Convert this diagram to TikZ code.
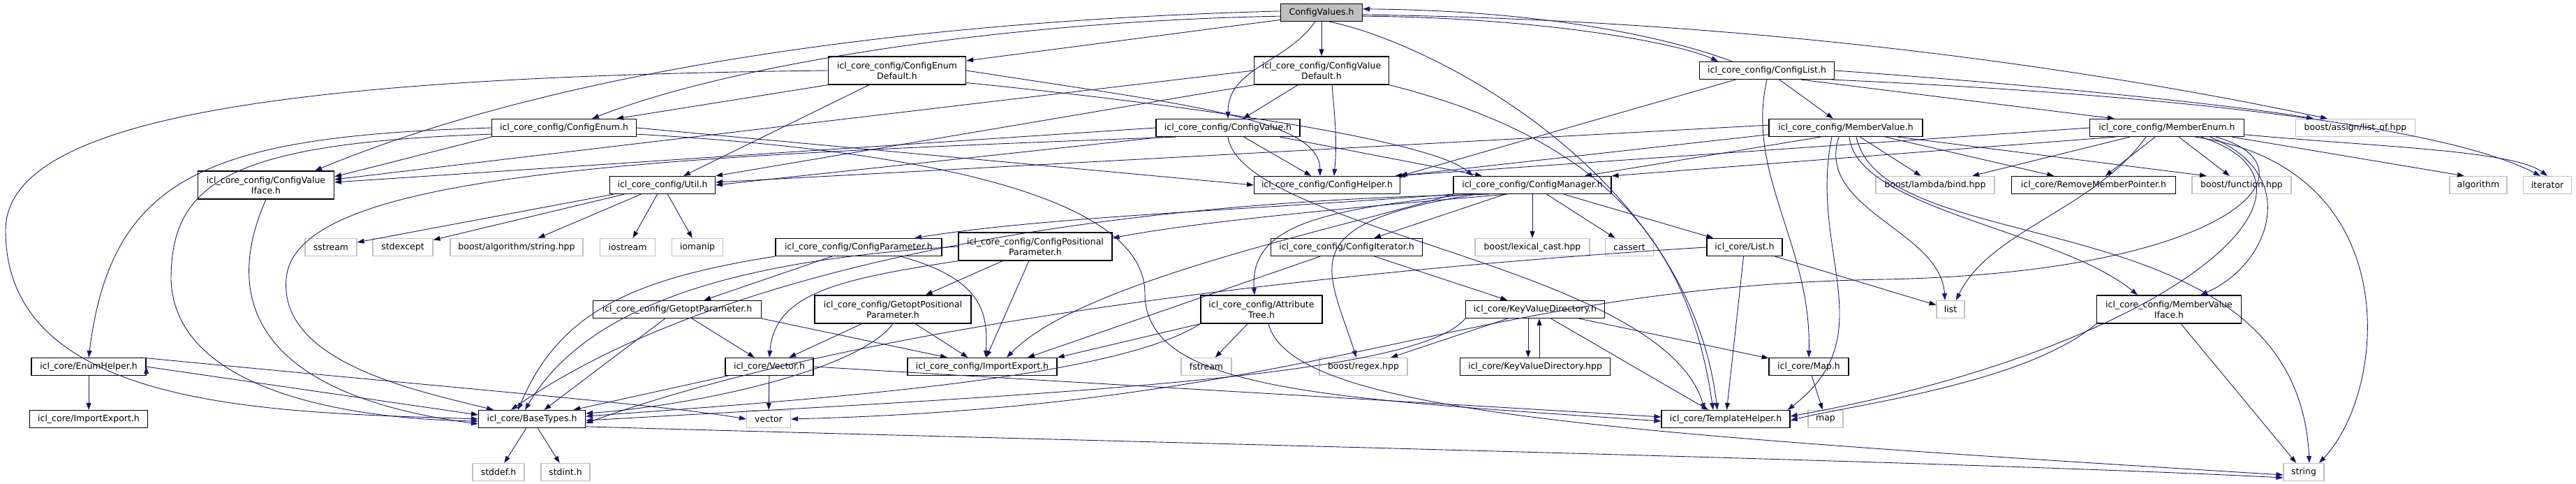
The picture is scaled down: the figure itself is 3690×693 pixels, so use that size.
\documentclass[tikz,border=0pt]{standalone}
\usepackage{fontspec}
\setmainfont{DejaVu Sans}
\usetikzlibrary{arrows.meta}
\definecolor{depblue}{HTML}{191970}
\definecolor{sysgray}{HTML}{BFBFBF}
\tikzset{>={Triangle[length=10pt,width=7pt]},
    dep/.style={->,draw=depblue,line width=0.9pt},
    hbox/.style={rectangle,draw,line width=1.2pt,inner xsep=2pt,inner ysep=0pt,
        minimum height=25pt,align=center,font=\fontsize{12.5}{15}\selectfont},
    hdr/.style={hbox,draw=black},
    sys/.style={hbox,draw=sysgray},
    cur/.style={hbox,draw=black,fill=sysgray},
    twoline/.style={minimum height=40pt}}

\begin{document}
\begin{tikzpicture}[x=1pt,y=-1pt]
\useasboundingbox (0,0) rectangle (3690,693);
% files, rank by rank
\node[cur, minimum width=117pt] (cv) at (1893,18) {ConfigValues.h};
\node[hdr, twoline, minimum width=197pt] (ced) at (1285,101) {icl\_core\_config/ConfigEnum\\Default.h};
\node[hdr, twoline, minimum width=193pt] (cvd) at (1893,101) {icl\_core\_config/ConfigValue\\Default.h};
\node[hdr, minimum width=193pt] (clist) at (2531,101) {icl\_core\_config/ConfigList.h};
\node[hdr, minimum width=207pt] (cenum) at (808,183) {icl\_core\_config/ConfigEnum.h};
\node[hdr, minimum width=206pt] (cval) at (1759,183) {icl\_core\_config/ConfigValue.h};
\node[hdr, minimum width=220pt] (mval) at (2644,183) {icl\_core\_config/MemberValue.h};
\node[hdr, minimum width=221pt] (menum) at (3104,183) {icl\_core\_config/MemberEnum.h};
\node[sys, minimum width=171pt] (listof) at (3374,183) {boost/assign/list\_of.hpp};
\node[hdr, twoline, minimum width=195pt] (cvi) at (381,265) {icl\_core\_config/ConfigValue\\Iface.h};
\node[hdr, minimum width=151pt] (util) at (949,265) {icl\_core\_config/Util.h};
\node[hdr, minimum width=209pt] (chelp) at (1901,265) {icl\_core\_config/ConfigHelper.h};
\node[hdr, minimum width=226pt] (cmgr) at (2195,265) {icl\_core\_config/ConfigManager.h};
\node[sys, minimum width=170pt] (bind) at (2772,265) {boost/lambda/bind.hpp};
\node[hdr, minimum width=235pt] (rmp) at (2999,265) {icl\_core/RemoveMemberPointer.h};
\node[sys, minimum width=142pt] (func) at (3211,265) {boost/function.hpp};
\node[sys, minimum width=82pt] (algo) at (3550,265) {algorithm};
\node[sys, minimum width=69pt] (iter) at (3649,265) {iterator};
\node[sys, minimum width=74pt] (sstream) at (474,354) {sstream};
\node[sys, minimum width=86pt] (stdexcept) at (577,354) {stdexcept};
\node[sys, minimum width=190pt] (balgo) at (740,354) {boost/algorithm/string.hpp};
\node[sys, minimum width=79pt] (iostream) at (899,354) {iostream};
\node[sys, minimum width=73pt] (iomanip) at (999,354) {iomanip};
\node[hdr, minimum width=238pt] (cparam) at (1230,354) {icl\_core\_config/ConfigParameter.h};
\node[hdr, twoline, minimum width=220pt] (cpparam) at (1483,353) {icl\_core\_config/ConfigPositional\\Parameter.h};
\node[hdr, minimum width=217pt] (citer) at (1929,354) {icl\_core\_config/ConfigIterator.h};
\node[sys, minimum width=164pt] (lexcast) at (2195,354) {boost/lexical\_cast.hpp};
\node[sys, minimum width=69pt] (cassert) at (2334,354) {cassert};
\node[hdr, minimum width=108pt] (listh) at (2499,354) {icl\_core/List.h};
\node[hdr, minimum width=241pt] (getopt) at (970,443) {icl\_core\_config/GetoptParameter.h};
\node[hdr, twoline, minimum width=224pt] (getpos) at (1279,443) {icl\_core\_config/GetoptPositional\\Parameter.h};
\node[hdr, twoline, minimum width=174pt] (attr) at (1807,443) {icl\_core\_config/Attribute\\Tree.h};
\node[hdr, minimum width=199pt] (kvd) at (2199,443) {icl\_core/KeyValueDirectory.h};
\node[sys, minimum width=40pt] (list) at (2794,443) {list};
\node[hdr, twoline, minimum width=207pt] (mvi) at (3107,443) {icl\_core\_config/MemberValue\\Iface.h};
\node[hdr, minimum width=164pt] (enumhelper) at (127,525) {icl\_core/EnumHelper.h};
\node[hdr, minimum width=126pt] (vech) at (1102,525) {icl\_core/Vector.h};
\node[hdr, minimum width=214pt] (iecfg) at (1407,525) {icl\_core\_config/ImportExport.h};
\node[sys, minimum width=72pt] (fstream) at (1728,525) {fstream};
\node[sys, minimum width=126pt] (regex) at (1953,525) {boost/regex.hpp};
\node[hdr, minimum width=215pt] (kvdhpp) at (2199,525) {icl\_core/KeyValueDirectory.hpp};
\node[hdr, minimum width=114pt] (maph) at (2591,525) {icl\_core/Map.h};
\node[hdr, minimum width=169pt] (iecore) at (127,600) {icl\_core/ImportExport.h};
\node[hdr, minimum width=153pt] (basetypes) at (762,600) {icl\_core/BaseTypes.h};
\node[sys, minimum width=63pt] (vector) at (1101,600) {vector};
\node[hdr, minimum width=184pt] (th) at (2472,600) {icl\_core/TemplateHelper.h};
\node[sys, minimum width=50pt] (map) at (2615,600) {map};
\node[sys, minimum width=74pt] (stddef) at (714,676) {stddef.h};
\node[sys, minimum width=70pt] (stdint) at (810,676) {stdint.h};
\node[sys, minimum width=58pt] (string) at (3300,676) {string};

% straight includes
\path[dep]
    (cv) edge (cvd)
    (cv.190) edge ([yshift=14pt]ced.east)
    (clist) edge (mval)
    (clist.-15) edge ([xshift=-75pt]menum.north)
    ([xshift=-45pt]clist.south) edge (chelp.north east)
    (mval.178) edge (util.3)
    (mval.185) edge ([xshift=-3pt]chelp.north east)
    (mval.200) edge ([xshift=75pt]cmgr.north)
    (mval) edge (bind)
    (mval) edge (rmp)
    (mval.-10) edge ([xshift=-50pt]func.north)
    (menum.west) edge ([xshift=-8pt]chelp.north east)
    (menum.190) edge (cmgr.north east)
    (menum) edge (bind)
    (menum) edge (rmp)
    (menum) edge (func)
    (menum.-8) edge ([xshift=-20pt]algo.north)
    (cval) edge (chelp)
    (cval.-10) edge ([xshift=-72pt]cmgr.north)
    (cval.188) edge (util.east)
    (cval.180) edge ([yshift=4pt]cvi.east)
    (cvd) edge (cval)
    (cvd.south west) edge (util.north east)
    (cvd.west) edge ([yshift=8pt]cvi.east)
    (ced.south west) edge ([xshift=75pt]cenum.north)
    ([xshift=-40pt]ced.south) edge ([xshift=30pt]util.north)
    (cenum.south west) edge ([yshift=12pt]cvi.east)
    (cenum.east) edge (chelp.west)
    (util) edge (sstream)
    (util) edge (stdexcept)
    (util) edge (balgo)
    (util) edge (iostream)
    (util) edge (iomanip)
    (cmgr) edge (citer)
    (cmgr) edge (lexcast)
    (cmgr) edge (cassert)
    (cmgr) edge (listh)
    (citer) edge (kvd)
    (citer) edge ([xshift=65pt]iecfg.north)
    (cparam) edge (getopt)
    (cpparam) edge (getpos)
    (cpparam) edge (iecfg)
    (getopt) edge (vech)
    (getopt.south east) edge ([xshift=-50pt]iecfg.north)
    (getopt) edge (basetypes)
    (getpos) edge (vech)
    (getpos) edge (iecfg)
    (attr) edge (iecfg.north east)
    (attr) edge (fstream)
    ([xshift=-10pt]kvd.south) edge ([xshift=-10pt]kvdhpp.north)
    ([xshift=6pt]kvdhpp.north) edge ([xshift=6pt]kvd.south)
    (kvd) edge (regex)
    (kvd) edge (maph)
    (kvd) edge ([xshift=-25pt]th.north)
    (listh) edge (th)
    (listh) edge (list)
    (maph) edge (map)
    (mvi) edge (string)
    (enumhelper) edge (iecore)
    (enumhelper.east) edge ([yshift=6pt]basetypes.west)
    (vech) edge (vector)
    (vech) edge (basetypes)
    (basetypes) edge (stddef)
    (basetypes) edge (stdint);

% curved includes
\draw[dep] (cv) to[out=-125,in=90] (cval);
\draw[dep] (cv.185) .. controls (1450,30) and (1050,90) .. ([xshift=40pt]cenum.north);
\draw[dep] (cv.178) .. controls (1300,30) and (800,100) .. ([xshift=70pt]cvi.north);
\draw[dep] (cv.-5) .. controls (2200,25) and (2400,60) .. ([xshift=-70pt]clist.north);
\draw[dep] ([xshift=-50pt]clist.north) .. controls (2380,50) and (2200,15) .. (cv.5);
\draw[dep] (cv.-3) .. controls (2600,30) and (3100,120) .. ([xshift=-40pt]listof.north);
\draw[dep] (cv.-50) .. controls (2050,60) and (2420,250) .. ([xshift=-12pt]th.north);
\draw[dep] (clist.east) .. controls (2900,120) and (3200,150) .. ([xshift=-60pt]listof.north);
\draw[dep] (clist.-8) .. controls (3200,140) and (3520,190) .. ([xshift=-10pt]iter.north);
\draw[dep] (clist.south) .. controls (2500,250) and (2595,350) .. (maph.north);
\draw[dep] ([xshift=-10pt]mval.south) .. controls (2600,300) and (2780,330) .. ([xshift=-8pt]list.north);
\draw[dep] ([xshift=5pt]mval.south) .. controls (2660,300) and (2950,330) .. ([xshift=-45pt]mvi.north);
\draw[dep] ([xshift=-20pt]mval.south) .. controls (2590,360) and (2700,480) .. ([xshift=-4pt]th.north east);
\draw[dep] ([xshift=15pt]mval.south) .. controls (2700,380) and (3290,280) .. ([xshift=8pt]string.north);
\draw[dep] ([xshift=-30pt]menum.south) .. controls (3000,300) and (2850,330) .. ([xshift=8pt]list.north);
\draw[dep] (menum.-5) .. controls (3400,210) and (3600,215) .. (iter.north);
\draw[dep] (menum.-12) .. controls (3300,250) and (3250,380) .. ([xshift=45pt]mvi.north);
\draw[dep] (menum.-15) .. controls (3380,270) and (3100,500) .. ([yshift=4pt]th.east);
\draw[dep] (menum.-18) .. controls (3450,240) and (3420,560) .. ([xshift=22pt]string.north);
\draw[dep] ([xshift=70pt]menum.south) .. controls (3330,240) and (3200,390) .. (2700,400)
    .. controls (2100,410) and (1900,580) .. (vector.east);
\draw[dep] (cval.190) .. controls (900,225) and (420,250) .. (410,400)
    .. controls (400,520) and (600,560) .. ([xshift=-55pt]basetypes.north);
\draw[dep] (cval.south) .. controls (1780,330) and (2380,380) .. ([xshift=-30pt]th.north);
\draw[dep] ([xshift=15pt]cvd.south) to[out=-85,in=85] ([xshift=10pt]chelp.north);
\draw[dep] (cvd.south east) .. controls (2300,200) and (2420,350) .. ([xshift=-18pt]th.north);
\draw[dep] (ced.west) .. controls (400,110) and (8,170) .. (8,330)
    .. controls (8,590) and (400,590) .. (basetypes.west);
\draw[dep] (ced.east) .. controls (1700,150) and (1890,170) .. ([xshift=-10pt]chelp.north);
\draw[dep] (ced.-10) .. controls (1700,150) and (2050,200) .. ([xshift=-85pt]cmgr.north);
\draw[dep] (cenum.west) .. controls (300,195) and (160,250) .. (enumhelper.north);
\draw[dep] (cenum.185) .. controls (330,205) and (245,260) .. (245,400)
    .. controls (250,560) and (500,600) .. ([yshift=-3pt]basetypes.west);
\draw[dep] (cenum.-5) .. controls (1400,220) and (1640,300) .. (1640,420)
    .. controls (1640,560) and (1900,570) .. ([yshift=-3pt]th.west);
\draw[dep] (cvi.south) .. controls (330,400) and (330,560) .. ([yshift=-7pt]basetypes.west);
\draw[dep] (cmgr.south west) .. controls (1800,300) and (1500,310) .. ([xshift=80pt]cparam.north);
\draw[dep] (cmgr.200) .. controls (1900,300) and (1700,320) .. ([yshift=12pt]cpparam.east);
\draw[dep] ([xshift=-90pt]cmgr.south) .. controls (1900,300) and (1790,320) .. ([xshift=-10pt]attr.north);
\draw[dep] (cmgr.south west) .. controls (1950,320) and (1550,400) .. ([xshift=35pt]iecfg.north);
\draw[dep] (cmgr.192) .. controls (1500,290) and (1000,400) .. ([xshift=-30pt]basetypes.north);
\draw[dep] ([xshift=-80pt]cmgr.south) .. controls (1850,320) and (1900,380) .. ([xshift=-10pt]regex.north);
\draw[dep] ([xshift=60pt]cparam.south) .. controls (1410,400) and (1415,450) .. ([xshift=5pt]iecfg.north);
\draw[dep] (cparam.south west) .. controls (900,400) and (800,450) .. ([xshift=-20pt]basetypes.north);
\draw[dep] (cpparam.south west) .. controls (1200,400) and (1110,420) .. (vech.north);
\draw[dep] (cpparam.west) .. controls (1100,370) and (850,420) .. ([xshift=-10pt]basetypes.north);
\draw[dep] (getpos.south) .. controls (1230,530) and (1000,580) .. ([yshift=8pt]basetypes.east);
\draw[dep] (attr.south west) .. controls (1600,540) and (1200,570) .. ([yshift=4pt]basetypes.east);
\draw[dep] ([xshift=10pt]attr.south) .. controls (1850,590) and (2300,620) .. ([yshift=-4pt]string.west);
\draw[dep] (kvd.south west) .. controls (2030,540) and (1500,565) .. ([yshift=-2pt]basetypes.east);
\draw[dep] (listh.west) .. controls (2100,375) and (1300,440) .. ([yshift=-6pt]basetypes.east);
\draw[dep] (mvi.south west) .. controls (2900,550) and (2650,580) .. ([yshift=-2pt]th.east);
\draw[dep] (enumhelper.10) .. controls (700,560) and (950,580) .. (vector.west);
\draw[dep] (vech.east) .. controls (1500,545) and (2100,580) .. ([yshift=3pt]th.west);
\draw[dep] (basetypes.-8) .. controls (1500,630) and (2800,660) .. ([yshift=-8pt]string.west);
\end{tikzpicture}
\end{document}
